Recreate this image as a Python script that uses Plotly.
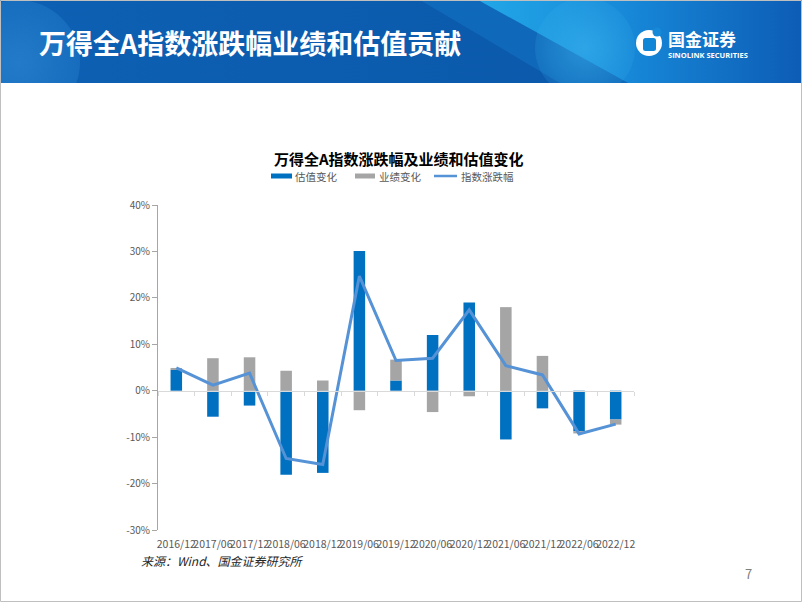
import base64
import plotly.graph_objects as go

# ---------------- data ----------------
categories = ["2016/12", "2017/06", "2017/12", "2018/06", "2018/12", "2019/06", "2019/12",
              "2020/06", "2020/12", "2021/06", "2021/12", "2022/06", "2022/12"]
valuation_change = [4.5, -5.6, -3.2, -18.1, -17.7, 30.1, 2.2, 12.0, 19.0, -10.5, -3.8, -8.7, -6.2]
earnings_change = [0.4, 7.0, 7.2, 4.3, 2.2, -4.2, 4.5, -4.6, -1.2, 18.0, 7.5, -0.5, -1.1]
index_change = [4.9, 1.2, 3.8, -14.6, -15.9, 24.7, 6.5, 7.0, 17.4, 5.4, 3.4, -9.3, -7.2]
y_tick_vals = [-30, -20, -10, 0, 10, 20, 30, 40]
y_tick_text = ["-30%", "-20%", "-10%", "0%", "10%", "20%", "30%", "40%"]
series_names = ["估值变化", "业绩变化", "指数涨跌幅"]
series_colors = ["#0070C0", "#A5A5A5", "#5592D6"]

# ---------------- layout geometry ----------------
W, H = 802, 602
L, R, T, B = 158, 168, 205, 72
PW, PH = W - L - R, H - T - B


def px(x):
    return (x - L) / PW


def py(y):
    return 1 - (y - T) / PH


FONT = "Noto Sans CJK SC"

# header banner as svg image
svg = """<svg xmlns='http://www.w3.org/2000/svg' width='802' height='83' viewBox='0 0 802 83'>
<defs>
<linearGradient id='g1' x1='0' y1='0' x2='1' y2='0'>
<stop offset='0' stop-color='#0d60b3'/><stop offset='1' stop-color='#0a57a9'/></linearGradient>
<linearGradient id='g2' x1='0' y1='0' x2='1' y2='0'>
<stop offset='0' stop-color='#22a7e8'/><stop offset='0.45' stop-color='#1789d8'/>
<stop offset='1' stop-color='#0d5cb5'/></linearGradient>
<radialGradient id='c1' cx='0.5' cy='0.5' r='0.5'>
<stop offset='0' stop-color='#3cb4ee' stop-opacity='0.55'/><stop offset='1' stop-color='#3cb4ee' stop-opacity='0.15'/></radialGradient>
<radialGradient id='c0' cx='0.5' cy='0.5' r='0.5'>
<stop offset='0' stop-color='#2b86d2' stop-opacity='0.7'/><stop offset='1' stop-color='#2b86d2' stop-opacity='0.35'/></radialGradient>
</defs>
<rect width='802' height='83' fill='url(#g1)'/>
<circle cx='18' cy='62' r='62' fill='url(#c0)'/>
<polygon points='420,0 478,0 628,83 560,83' fill='#1474c4' opacity='0.55'/>
<polygon points='478,0 802,0 802,83 628,83' fill='url(#g2)'/>
<circle cx='585' cy='48' r='50' fill='url(#c1)'/>
<circle cx='649' cy='43' r='13' fill='#ffffff'/>
<rect x='643' y='38' width='13' height='13' rx='2.5' fill='#1286d6'/>
<circle cx='657' cy='32' r='4.5' fill='#1689d8'/>
</svg>"""
svg_uri = "data:image/svg+xml;base64," + base64.b64encode(svg.encode("utf-8")).decode("ascii")

fig = go.Figure()

fig.add_trace(go.Bar(
    x=categories, y=valuation_change, name=series_names[0],
    marker=dict(color=series_colors[0], line=dict(width=0)),
))
fig.add_trace(go.Bar(
    x=categories, y=earnings_change, name=series_names[1],
    marker=dict(color=series_colors[1], line=dict(width=0)),
))
fig.add_trace(go.Scatter(
    x=categories, y=index_change, name=series_names[2], mode="lines",
    line=dict(color=series_colors[2], width=3), xaxis="x2",
))

fig.update_layout(
    width=W, height=H,
    margin=dict(l=L, r=R, t=T, b=B),
    paper_bgcolor="white", plot_bgcolor="white",
    barmode="relative", bargap=0.685,
    font=dict(family=FONT, color="#595959"),
    showlegend=False,
    xaxis=dict(
        type="category", range=[-0.5, len(categories) - 0.5],
        showline=False, ticks="", showgrid=False, zeroline=False,
        tickangle=0, tickfont=dict(size=10.5, color="#595959", family=FONT),
        ticklabelstandoff=6,
    ),
    xaxis2=dict(
        type="category", overlaying="x", anchor="free", position=30 / 70,
        range=[-0.5, len(categories) - 0.5],
        showline=True, linecolor="#D9D9D9", linewidth=1,
        ticks="outside", tickson="boundaries", ticklen=4, tickcolor="#D9D9D9",
        showticklabels=False, showgrid=False, zeroline=False,
    ),
    yaxis=dict(
        range=[-30, 40], tickvals=y_tick_vals, ticktext=y_tick_text,
        showline=True, linecolor="#A6A6A6", linewidth=1,
        ticks="outside", ticklen=5, tickcolor="#A6A6A6",
        showgrid=False, zeroline=False,
        tickfont=dict(size=10, color="#595959", family=FONT),
    ),
)

fig.add_layout_image(dict(
    source=svg_uri, xref="paper", yref="paper",
    x=px(0), y=py(0), sizex=W / PW, sizey=83 / PH,
    xanchor="left", yanchor="top", sizing="stretch", layer="below",
))

# slide border
fig.add_shape(type="rect", xref="paper", yref="paper",
              x0=px(0.5), x1=px(W - 0.5), y0=py(H - 0.5), y1=py(0.5),
              line=dict(color="#BFBFBF", width=1), fillcolor="rgba(0,0,0,0)", layer="above")

# custom legend (flat swatches like the reference)
LEG_Y = 176
fig.add_shape(type="rect", xref="paper", yref="paper",
              x0=px(271), x1=px(292), y0=py(LEG_Y + 2.5), y1=py(LEG_Y - 2.5),
              fillcolor=series_colors[0], line=dict(width=0))
fig.add_shape(type="rect", xref="paper", yref="paper",
              x0=px(355), x1=px(375), y0=py(LEG_Y + 2.5), y1=py(LEG_Y - 2.5),
              fillcolor=series_colors[1], line=dict(width=0))
fig.add_shape(type="line", xref="paper", yref="paper",
              x0=px(434), x1=px(457), y0=py(LEG_Y), y1=py(LEG_Y),
              line=dict(color=series_colors[2], width=2.5))
for name, xl in zip(series_names, [294, 377.5, 460]):
    fig.add_annotation(xref="paper", yref="paper", showarrow=False, text=name,
                       x=px(xl), y=py(LEG_Y), xanchor="left", yanchor="middle", borderpad=0,
                       font=dict(size=10.5, color="#595959", family=FONT))

annotations = [
    dict(text="<b>万得全A指数涨跌幅及业绩和估值变化</b>", x=px(399), y=py(158.5),
         xanchor="center", yanchor="middle", font=dict(size=15, color="#000000", family=FONT)),
    dict(text="<b>万得全A指数涨跌幅业绩和估值贡献</b>", x=px(38), y=py(43),
         xanchor="left", yanchor="middle", font=dict(size=27, color="white", family=FONT)),
    dict(text="<b>国金证券</b>", x=px(667), y=py(38.5),
         xanchor="left", yanchor="middle", font=dict(size=17, color="white", family=FONT)),
    dict(text="<b>SINOLINK SECURITIES</b>", x=px(667), y=py(54.5),
         xanchor="left", yanchor="middle", font=dict(size=7.5, color="white", family="Open Sans")),
    dict(text="<i>来源：Wind、国金证券研究所</i>", x=px(140), y=py(560),
         xanchor="left", yanchor="middle", font=dict(size=12, color="#262626", family=FONT)),
    dict(text="7", x=px(748), y=py(573),
         xanchor="center", yanchor="middle", font=dict(size=13, color="#7F7F7F", family=FONT)),
]
for a in annotations:
    fig.add_annotation(xref="paper", yref="paper", showarrow=False, borderpad=0, **a)

fig.write_html("out.html", config={"displayModeBar": False},
               post_script="document.body.style.margin='0';")
